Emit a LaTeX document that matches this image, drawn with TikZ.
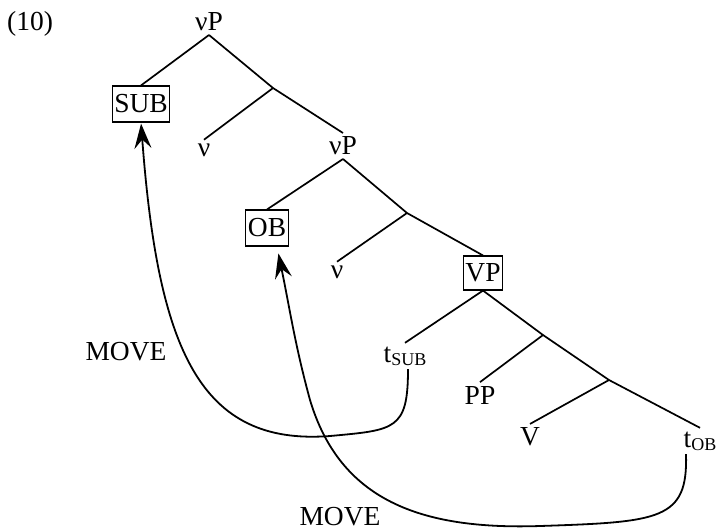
\documentclass[tikz,border=0pt]{standalone}
\usepackage{fontspec}
\setmainfont{Liberation Serif}
\usetikzlibrary{arrows.meta}
\newcommand\sbs[1]{\raisebox{-3pt}{\fontsize{18}{18}\selectfont #1}}

\begin{document}
\begin{tikzpicture}[x=1pt,y=-1pt,line width=1.7pt,font=\fontsize{27.5}{30}\selectfont]
	\tikzstyle{cat}=[inner sep=3pt]
	\tikzstyle{boxed}=[draw,line width=1.1pt,inner xsep=2pt,inner ysep=0pt,minimum height=36pt]
	\tikzstyle{move}=[-{Stealth[length=25pt,width=17pt,inset=9pt]},line width=1.8pt]
	\tikzstyle{annot}=[inner sep=0pt]
	\useasboundingbox (0,0) rectangle (719,531);

	% example number
	\node[annot] (num) at (30,24) {(10)};

	% Draw the upper vP shell
	\node[cat] (vP1) at (209,22) {νP};
	\node[boxed] (sub) at (141,104) {SUB};
	\coordinate (b1) at (273,88);
	\node[cat] (v1) at (204,150) {ν};
	\node[cat] (vP2) at (343,146) {νP};

	% Draw the lower vP shell
	\node[boxed] (ob) at (267,228) {OB};
	\coordinate (b2) at (407,213);
	\node[cat] (v2) at (337,272) {ν};
	\node[boxed,minimum height=34pt] (VP) at (483,273) {VP};

	% Draw the VP
	\node[cat] (tsub) at (405,356) {t\sbs{SUB}};
	\coordinate (b3) at (543,335);
	\node[cat] (pp) at (480,395) {PP};
	\coordinate (b4) at (609,380);
	\node[cat] (V) at (530,437) {V};
	\node[cat] (tob) at (700,441) {t\sbs{OB}};

	% Connect the tree
	\draw (vP1.south) -- (sub.north);
	\draw (vP1.south) -- (b1) -- (vP2.north);
	\draw (b1) -- (v1.north);
	\draw (vP2.south) -- (ob.north);
	\draw (vP2.south) -- (b2) -- (VP.north);
	\draw (b2) -- (v2.north);
	\draw (VP.south) -- (tsub.north);
	\draw (VP.south) -- (b3) -- (b4) -- (tob.north);
	\draw (b3) -- (pp.north);
	\draw (b4) -- (V.north);

	% movement arrows
	\draw[move,shorten >=1pt] ([xshift=3pt]tsub.south) .. controls (408,430) and (395,430) .. (330,436)
		.. controls (200,446) and (158,350) .. (sub.south);
	\draw[move,shorten >=7pt] ([xshift=-14pt]tob.south) .. controls (688,520) and (660,522) .. (540,526)
		.. controls (420,530) and (340,500) .. (310,400)
		.. controls (295,345) and (290,310) .. ([xshift=10pt]ob.south);
	\node[annot] (move1) at (126,352) {MOVE};
	\node[annot] (move2) at (340,517) {MOVE};
\end{tikzpicture}
\end{document}
